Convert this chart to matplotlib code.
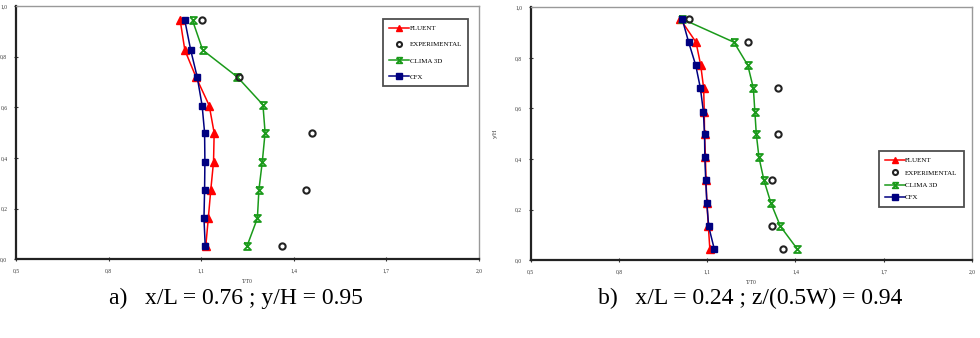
import matplotlib
matplotlib.use("Agg")
import matplotlib.pyplot as plt
from matplotlib.path import Path

plt.rcParams['font.family'] = ['Liberation Serif', 'DejaVu Serif']

# ---------------- data: panel a ----------------
a_fluent_x = [1.032, 1.047, 1.083, 1.126, 1.142, 1.140, 1.131, 1.123, 1.115]
a_fluent_y = [0.943, 0.826, 0.720, 0.607, 0.499, 0.386, 0.273, 0.162, 0.054]
a_cfx_x = [1.047, 1.066, 1.087, 1.103, 1.111, 1.112, 1.111, 1.109, 1.113]
a_cfx_y = [0.943, 0.826, 0.720, 0.607, 0.500, 0.386, 0.275, 0.162, 0.054]
a_clima_x = [1.072, 1.105, 1.217, 1.300, 1.307, 1.298, 1.287, 1.282, 1.249]
a_clima_y = [0.943, 0.826, 0.720, 0.610, 0.500, 0.386, 0.275, 0.162, 0.054]
a_exp_x = [1.102, 1.222, 1.460, 1.439, 1.362]
a_exp_y = [0.943, 0.720, 0.500, 0.275, 0.054]

# ---------------- data: panel b ----------------
b_y = [0.954, 0.862, 0.771, 0.680, 0.588, 0.498, 0.407, 0.316, 0.225, 0.134, 0.045]
b_fluent_x = [1.008, 1.062, 1.078, 1.088, 1.090, 1.091, 1.094, 1.096, 1.099, 1.104, 1.109]
b_cfx_x = [1.015, 1.037, 1.061, 1.077, 1.087, 1.091, 1.092, 1.095, 1.099, 1.105, 1.124]
b_clima_x = [1.015, 1.191, 1.238, 1.257, 1.262, 1.267, 1.276, 1.293, 1.317, 1.349, 1.406]
b_exp_x = [1.039, 1.240, 1.339, 1.339, 1.320, 1.320, 1.359]
b_exp_y = [0.954, 0.862, 0.680, 0.498, 0.316, 0.134, 0.045]

x_ticks = [0.5, 0.8, 1.1, 1.4, 1.7, 2.0]
x_ticklabels = ['0,5', '0,8', '1,1', '1,4', '1,7', '2,0']
y_ticks = [0.0, 0.2, 0.4, 0.6, 0.8, 1.0]
y_ticklabels = ['0,0', '0,2', '0,4', '0,6', '0,8', '1,0']

series_labels = ['FLUENT', 'EXPERIMENTAL', 'CLIMA 3D', 'CFX']
caption_a = 'a)   x/L = 0.76 ; y/H = 0.95'
caption_b = 'b)   x/L = 0.24 ; z/(0.5W) = 0.94'
x_label = 'T/T0'
y_label = 'y/H'

RED = '#ff0000'
GREEN = '#1a9a1a'
NAVY = '#000080'

hourglass = Path([(-1, 1), (1, 1), (-1, -1), (1, -1), (-1, 1)],
                 [Path.MOVETO, Path.LINETO, Path.LINETO, Path.LINETO, Path.LINETO])

fig = plt.figure(figsize=(9.8, 3.38), dpi=100)
ax1 = fig.add_axes([0.0163, 0.2328, 0.4725, 0.7494])
ax2 = fig.add_axes([0.5415, 0.2299, 0.4503, 0.7485])


def draw(ax, fx, fy, cx, cy, gx, gy, ex, ey, legend_bbox, spacing):
    ax.plot(fx, fy, color=RED, lw=1.1, marker='^', ms=6, mec=RED, mfc=RED,
            label=series_labels[0], zorder=3)
    ax.plot(ex, ey, ls='none', marker='o', ms=4.5, mfc='none', mec='#222222', mew=1.5,
            label=series_labels[1], zorder=4)
    ax.plot(gx, gy, color=GREEN, lw=1.1, marker=hourglass, ms=5, mec=GREEN, mfc='none',
            mew=1.3, label=series_labels[2], zorder=3)
    ax.plot(cx, cy, color=NAVY, lw=1.1, marker='s', ms=5, mec=NAVY, mfc=NAVY,
            label=series_labels[3], zorder=5)
    ax.set_xlim(0.5, 2.0)
    ax.set_ylim(0.0, 1.0)
    ax.set_xticks(x_ticks)
    ax.set_xticklabels(x_ticklabels)
    ax.set_yticks(y_ticks)
    ax.set_yticklabels(y_ticklabels)
    ax.tick_params(direction='inout', length=2.5, width=0.8, labelsize=4, pad=5,
                   colors='#333333')
    for s in ('left', 'bottom'):
        ax.spines[s].set_linewidth(1.6)
        ax.spines[s].set_color('#222222')
    for s in ('top', 'right'):
        ax.spines[s].set_linewidth(1.0)
        ax.spines[s].set_color('#999999')
    leg = ax.legend(loc='upper left', bbox_to_anchor=legend_bbox, fontsize=5,
                    frameon=True, fancybox=False, edgecolor='#222222',
                    handlelength=2.8, handletextpad=0.1, labelspacing=spacing,
                    borderpad=0.9, markerscale=0.8, borderaxespad=0)
    leg.get_frame().set_linewidth(1.3)


draw(ax1, a_fluent_x, a_fluent_y, a_cfx_x, a_cfx_y, a_clima_x, a_clima_y,
     a_exp_x, a_exp_y, (0.793, 0.949), 1.5)
draw(ax2, b_fluent_x, b_y, b_cfx_x, b_y, b_clima_x, b_y,
     b_exp_x, b_exp_y, (0.789, 0.432), 0.95)

ax1.set_xlabel(x_label, fontsize=4, labelpad=4, color='#333333')
ax2.set_xlabel(x_label, fontsize=4, labelpad=4, color='#333333')
ax2.set_ylabel(y_label, fontsize=4.5, labelpad=12, color='#333333')

fig.text(0.241, 0.118, caption_a, fontsize=17, ha='center', va='center')
fig.text(0.765, 0.118, caption_b, fontsize=17, ha='center', va='center')

fig.savefig('out.png', dpi=100)
